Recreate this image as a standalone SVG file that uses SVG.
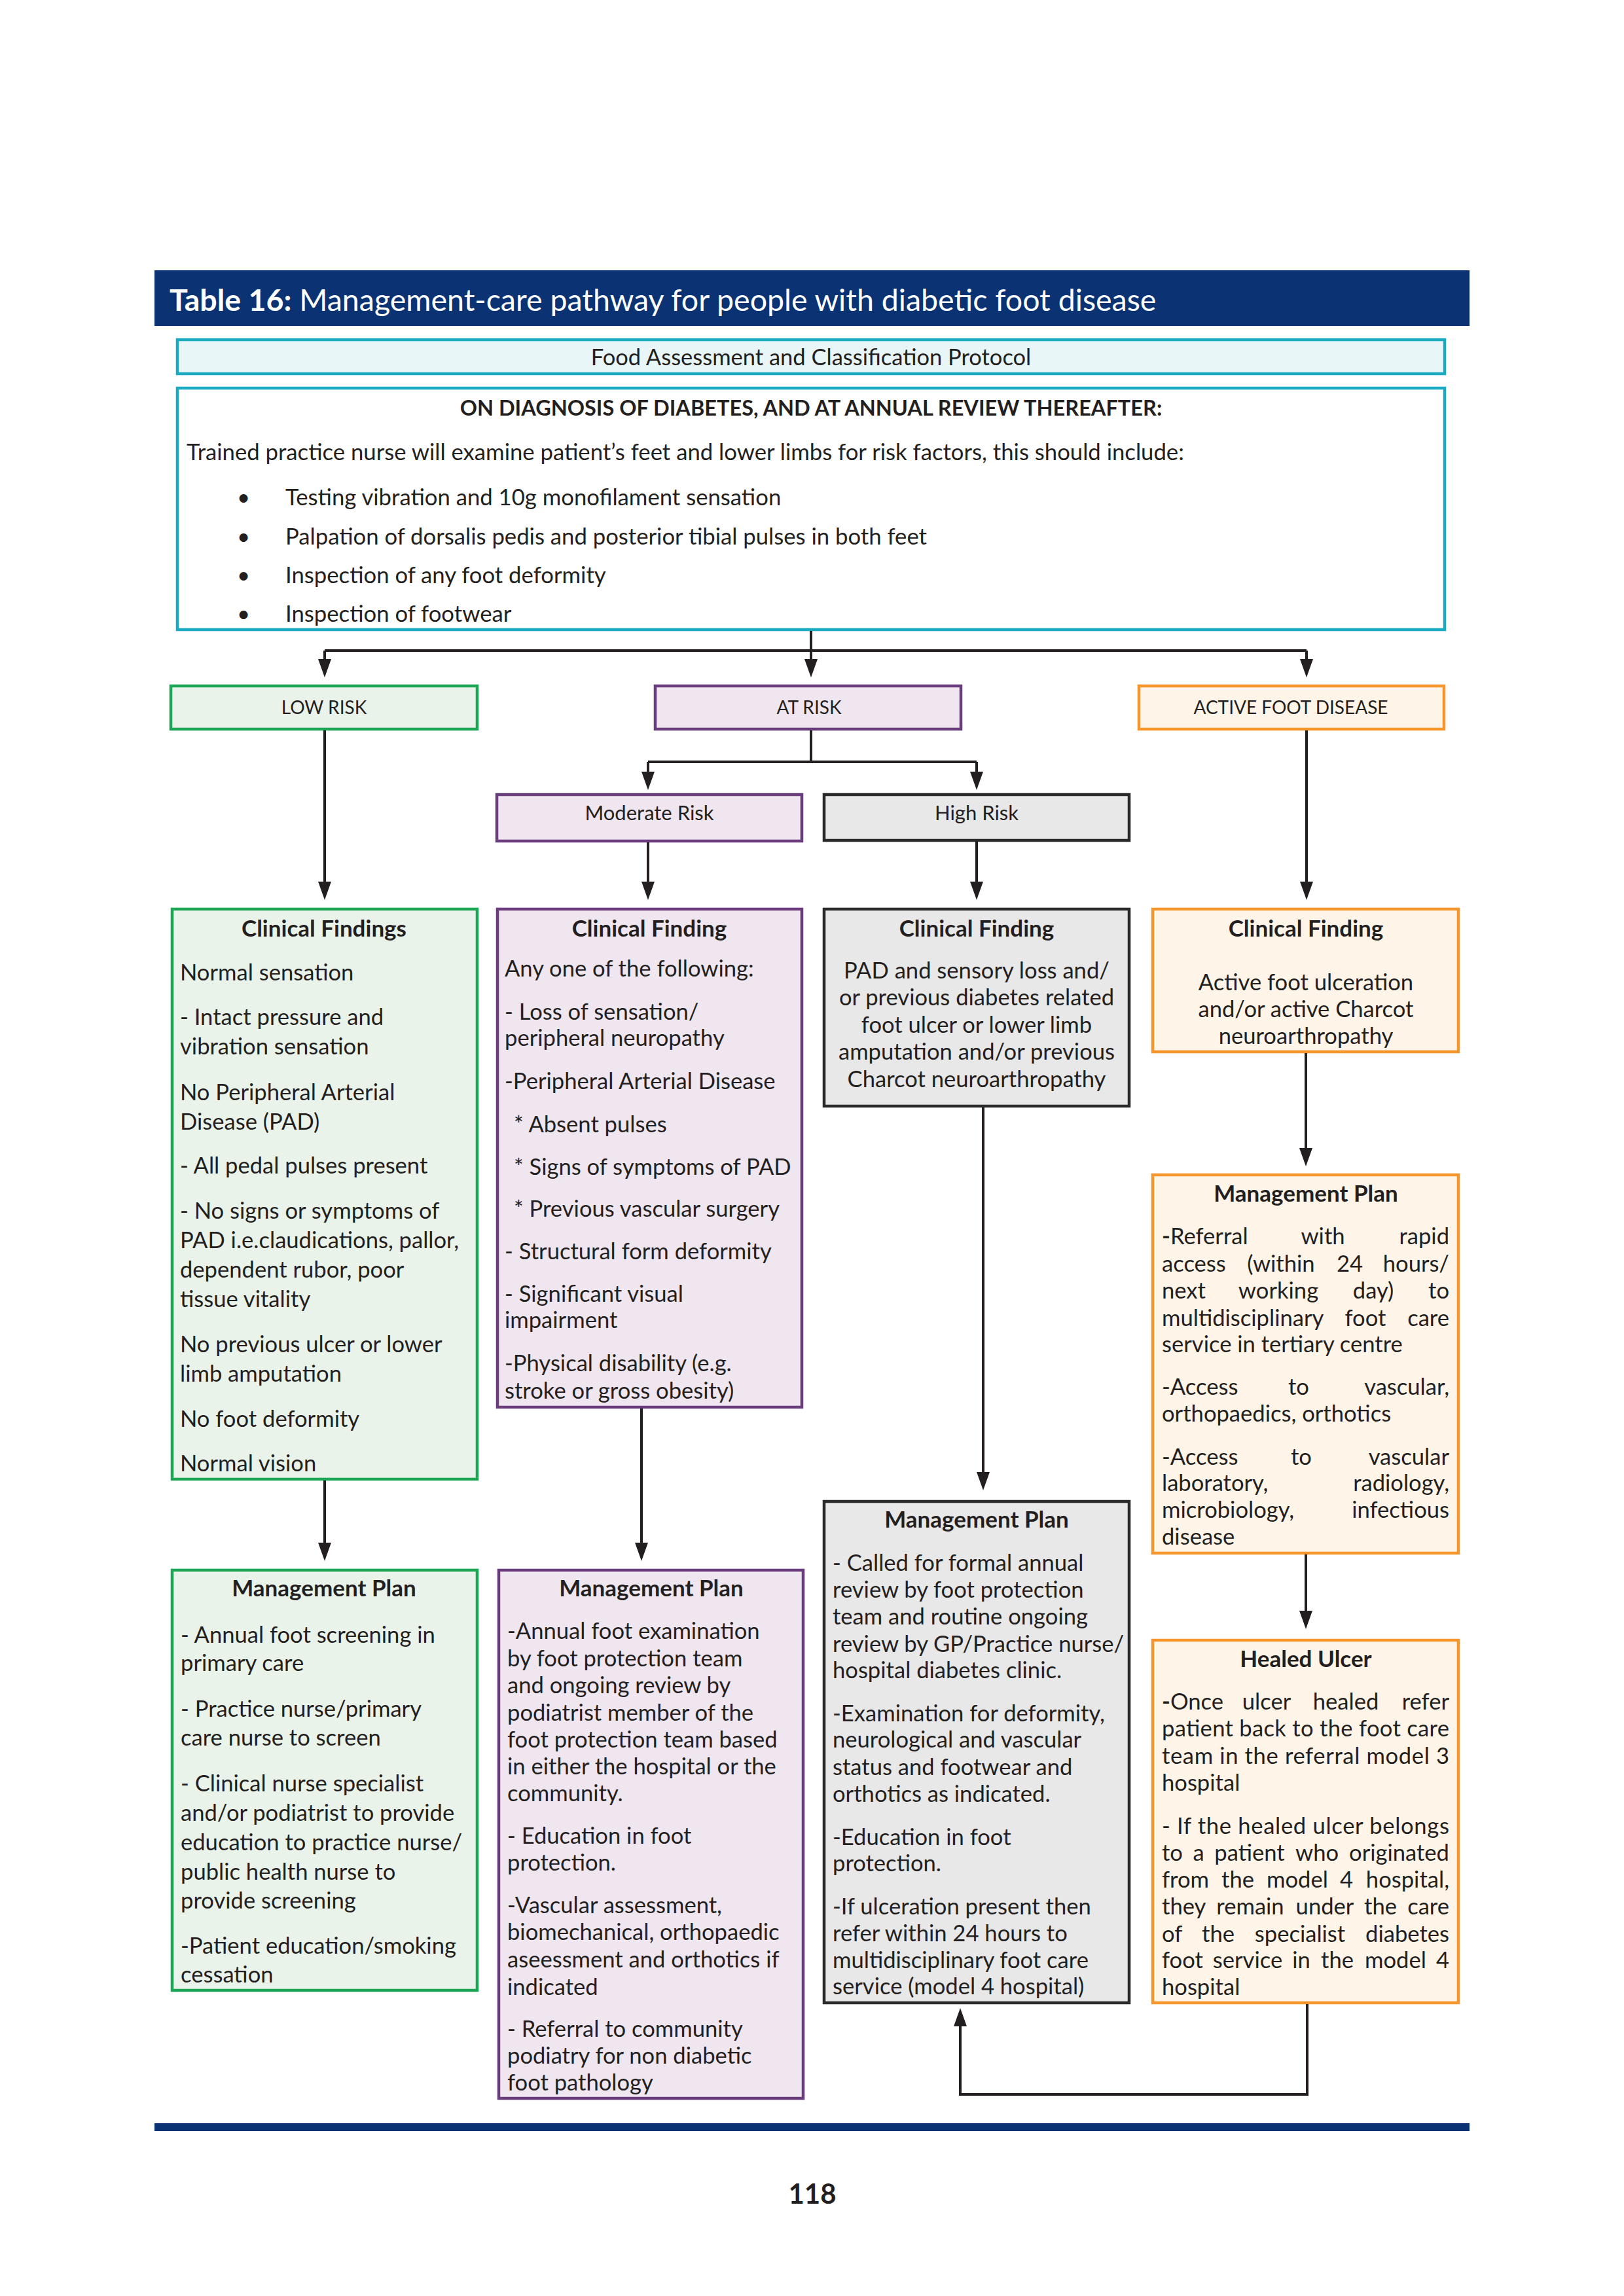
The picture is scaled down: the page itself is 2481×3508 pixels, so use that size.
<svg xmlns="http://www.w3.org/2000/svg" width="2481" height="3508" viewBox="0 0 2481 3508">
<defs>
<style>
.t{font-family:Lato,"Noto Sans","Liberation Sans",sans-serif;fill:#231F20}
.b{font-size:34.6px}
.s{font-size:34.7px}
.l{font-size:31px}
.cap{font-size:28px}
.h{font-size:35px;font-weight:bold}
.m{text-anchor:middle}
.e{text-anchor:end}
.st{text-anchor:start}
.bx{stroke-width:4.5}
.g{fill:#EAF3EA;stroke:#1BA554}
.p{fill:#F0E6EF;stroke:#693C7B}
.k{fill:#E8E8E8;stroke:#2A2A2A}
.o{fill:#FEF4E7;stroke:#F4962B}
.cy{fill:#E9F6F8;stroke:#1AABC0}
.w{fill:#FFFFFF;stroke:#1AABC0}
.cn{fill:none;stroke:#231F20;stroke-width:4}
.navy{fill:#0B3373}
</style>
<marker id="ah" viewBox="0 0 28 20" markerWidth="28" markerHeight="20" refX="1" refY="10" orient="auto" markerUnits="userSpaceOnUse"><path d="M0,0 L28,10 L0,20 z" fill="#231F20"/></marker>
</defs>
<rect width="2481" height="3508" fill="#FFFFFF"/>

<g id="title">
<rect class="navy" x="236" y="413" width="2009" height="85"/>
<text class="t" x="259" y="475" style="font-size:46.5px;fill:#FFFFFF"><tspan font-weight="bold">Table 16:</tspan> Management-care pathway for people with diabetic foot disease</text>
</g>

<g id="protocol">
<rect class="bx cy" x="271" y="519" width="1936" height="52"/>
<text class="t m" x="1239" y="558" style="font-size:34.5px">Food Assessment and Classification Protocol</text>
</g>

<g id="diagnosis">
<rect class="bx w" x="271" y="593" width="1936" height="369"/>
<text class="t m" x="1239" y="635" style="font-size:32.5px;font-weight:bold">ON DIAGNOSIS OF DIABETES, AND AT ANNUAL REVIEW THEREAFTER:</text>
<text class="t s" x="285" y="703">Trained practice nurse will examine patient’s feet and lower limbs for risk factors, this should include:</text>
<text class="t s" x="362" y="772">•</text><text class="t s" x="436" y="772">Testing vibration and 10g monofilament sensation</text>
<text class="t s" x="362" y="832">•</text><text class="t s" x="436" y="832">Palpation of dorsalis pedis and posterior tibial pulses in both feet</text>
<text class="t s" x="362" y="891">•</text><text class="t s" x="436" y="891">Inspection of any foot deformity</text>
<text class="t s" x="362" y="950">•</text><text class="t s" x="436" y="950">Inspection of footwear</text>
</g>

<g id="low-risk">
<rect class="bx g" x="261" y="1048" width="468" height="66"/>
<text class="t cap m" x="495" y="1091">LOW RISK</text>
</g>
<g id="at-risk">
<rect class="bx p" x="1001" y="1048" width="467" height="66"/>
<text class="t cap m" x="1236" y="1091">AT RISK</text>
</g>
<g id="active-foot-disease">
<rect class="bx o" x="1740" y="1048" width="466" height="66"/>
<text class="t cap m" x="1972" y="1091">ACTIVE FOOT DISEASE</text>
</g>
<g id="moderate-risk">
<rect class="bx p" x="759" y="1214" width="466" height="71"/>
<text class="t l m" x="992" y="1253">Moderate Risk</text>
</g>
<g id="high-risk">
<rect class="bx k" x="1259" y="1214" width="466" height="70"/>
<text class="t l m" x="1492" y="1253">High Risk</text>
</g>

<g id="low-clinical">
<rect class="bx g" x="263" y="1389" width="466" height="871"/>
<text class="t h m" x="495" y="1431">Clinical Findings</text>
<text class="t b" x="275" y="1498">Normal sensation</text>
<text class="t b" x="275" y="1566">- Intact pressure and</text>
<text class="t b" x="275" y="1611">vibration sensation</text>
<text class="t b" x="275" y="1681">No Peripheral Arterial</text>
<text class="t b" x="275" y="1726">Disease (PAD)</text>
<text class="t b" x="275" y="1793">- All pedal pulses present</text>
<text class="t b" x="275" y="1862">- No signs or symptoms of</text>
<text class="t b" x="275" y="1907">PAD i.e.claudications, pallor,</text>
<text class="t b" x="275" y="1952">dependent rubor, poor</text>
<text class="t b" x="275" y="1997">tissue vitality</text>
<text class="t b" x="275" y="2066">No previous ulcer or lower</text>
<text class="t b" x="275" y="2111">limb amputation</text>
<text class="t b" x="275" y="2180">No foot deformity</text>
<text class="t b" x="275" y="2248">Normal vision</text>
</g>

<g id="moderate-clinical">
<rect class="bx p" x="760" y="1389" width="465" height="761"/>
<text class="t h m" x="992" y="1431">Clinical Finding</text>
<text class="t b" x="771" y="1492">Any one of the following:</text>
<text class="t b" x="771" y="1558">- Loss of sensation/</text>
<text class="t b" x="771" y="1598">peripheral neuropathy</text>
<text class="t b" x="771" y="1664">-Peripheral Arterial Disease</text>
<text class="t b" x="785" y="1730">* Absent pulses</text>
<text class="t b" x="785" y="1795">* Signs of symptoms of PAD</text>
<text class="t b" x="785" y="1859">* Previous vascular surgery</text>
<text class="t b" x="771" y="1924">- Structural form deformity</text>
<text class="t b" x="771" y="1989">- Significant visual</text>
<text class="t b" x="771" y="2029">impairment</text>
<text class="t b" x="771" y="2095">-Physical disability (e.g.</text>
<text class="t b" x="771" y="2137">stroke or gross obesity)</text>
</g>

<g id="high-clinical">
<rect class="bx k" x="1259" y="1389" width="466" height="301"/>
<text class="t h m" x="1492" y="1431">Clinical Finding</text>
<text class="t b m" x="1492" y="1495">PAD and sensory loss and/</text>
<text class="t b m" x="1492" y="1536">or previous diabetes related</text>
<text class="t b m" x="1492" y="1578">foot ulcer or lower limb</text>
<text class="t b m" x="1492" y="1619">amputation and/or previous</text>
<text class="t b m" x="1492" y="1661">Charcot neuroarthropathy</text>
</g>

<g id="active-clinical">
<rect class="bx o" x="1761" y="1389" width="467" height="218"/>
<text class="t h m" x="1995" y="1431">Clinical Finding</text>
<text class="t b m" x="1995" y="1513">Active foot ulceration</text>
<text class="t b m" x="1995" y="1554">and/or active Charcot</text>
<text class="t b m" x="1995" y="1595">neuroarthropathy</text>
</g>

<g id="active-management">
<rect class="bx o" x="1761" y="1795" width="467" height="578"/>
<text class="t h m" x="1995" y="1836">Management Plan</text>
<text class="t b" y="1901"><tspan x="1775" class="st"><tspan font-weight="bold">-</tspan>Referral</tspan><tspan x="2021" class="m">with</tspan><tspan x="2214" class="e">rapid</tspan></text>
<text class="t b" y="1943"><tspan x="1775" class="st">access</tspan><tspan x="1957" class="m">(within</tspan><tspan x="2062" class="m">24</tspan><tspan x="2214" class="e">hours/</tspan></text>
<text class="t b" y="1984"><tspan x="1775" class="st">next</tspan><tspan x="1953" class="m">working</tspan><tspan x="2098" class="m">day)</tspan><tspan x="2214" class="e">to</tspan></text>
<text class="t b" y="2026"><tspan x="1775" class="st">multidisciplinary</tspan><tspan x="2086" class="m">foot</tspan><tspan x="2214" class="e">care</tspan></text>
<text class="t b" x="1775" y="2066">service in tertiary centre</text>
<text class="t b" y="2131"><tspan x="1775" class="st">-Access</tspan><tspan x="1984" class="m">to</tspan><tspan x="2214" class="e">vascular,</tspan></text>
<text class="t b" x="1775" y="2172">orthopaedics, orthotics</text>
<text class="t b" y="2238"><tspan x="1775" class="st">-Access</tspan><tspan x="1988" class="m">to</tspan><tspan x="2214" class="e">vascular</tspan></text>
<text class="t b" y="2278"><tspan x="1775" class="st">laboratory,</tspan><tspan x="2214" class="e">radiology,</tspan></text>
<text class="t b" y="2319"><tspan x="1775" class="st">microbiology,</tspan><tspan x="2214" class="e">infectious</tspan></text>
<text class="t b" x="1775" y="2360">disease</text>
</g>

<g id="healed-ulcer">
<rect class="bx o" x="1761" y="2506" width="467" height="554"/>
<text class="t h m" x="1995" y="2547">Healed Ulcer</text>
<text class="t b" y="2612"><tspan x="1775" class="st"><tspan font-weight="bold">-</tspan>Once</tspan><tspan x="1935" class="m">ulcer</tspan><tspan x="2056" class="m">healed</tspan><tspan x="2214" class="e">refer</tspan></text>
<text class="t b" x="1775" y="2653" textLength="439" lengthAdjust="spacing">patient back to the foot care</text>
<text class="t b" x="1775" y="2695" textLength="439" lengthAdjust="spacing">team in the referral model 3</text>
<text class="t b" x="1775" y="2736">hospital</text>
<text class="t b" x="1775" y="2802" textLength="439" lengthAdjust="spacing">- If the healed ulcer belongs</text>
<text class="t b" y="2843"><tspan x="1775" class="st">to</tspan><tspan x="1831" class="m">a</tspan><tspan x="1909" class="m">patient</tspan><tspan x="2012" class="m">who</tspan><tspan x="2214" class="e">originated</tspan></text>
<text class="t b" y="2884"><tspan x="1775" class="st">from</tspan><tspan x="1891" class="m">the</tspan><tspan x="1982" class="m">model</tspan><tspan x="2057" class="m">4</tspan><tspan x="2214" class="e">hospital,</tspan></text>
<text class="t b" y="2925"><tspan x="1775" class="st">they</tspan><tspan x="1910" class="m">remain</tspan><tspan x="2024" class="m">under</tspan><tspan x="2109" class="m">the</tspan><tspan x="2214" class="e">care</tspan></text>
<text class="t b" y="2967"><tspan x="1775" class="st">of</tspan><tspan x="1861" class="m">the</tspan><tspan x="1986" class="m">specialist</tspan><tspan x="2214" class="e">diabetes</tspan></text>
<text class="t b" y="3007"><tspan x="1775" class="st">foot</tspan><tspan x="1906" class="m">service</tspan><tspan x="1988" class="m">in</tspan><tspan x="2043" class="m">the</tspan><tspan x="2132" class="m">model</tspan><tspan x="2214" class="e">4</tspan></text>
<text class="t b" x="1775" y="3048">hospital</text>
</g>

<g id="low-management">
<rect class="bx g" x="263" y="2399" width="466" height="642"/>
<text class="t h m" x="495" y="2439">Management Plan</text>
<text class="t b" x="276" y="2510">- Annual foot screening in</text>
<text class="t b" x="276" y="2553">primary care</text>
<text class="t b" x="276" y="2623">- Practice nurse/primary</text>
<text class="t b" x="276" y="2667">care nurse to screen</text>
<text class="t b" x="276" y="2737">- Clinical nurse specialist</text>
<text class="t b" x="276" y="2782">and/or podiatrist to provide</text>
<text class="t b" x="276" y="2827">education to practice nurse/</text>
<text class="t b" x="276" y="2872">public health nurse to</text>
<text class="t b" x="276" y="2916">provide screening</text>
<text class="t b" x="276" y="2985">-Patient education/smoking</text>
<text class="t b" x="276" y="3029">cessation</text>
</g>

<g id="moderate-management">
<rect class="bx p" x="762" y="2399" width="465" height="807"/>
<text class="t h m" x="995" y="2439">Management Plan</text>
<text class="t b" x="775" y="2504">-Annual foot examination</text>
<text class="t b" x="775" y="2546">by foot protection team</text>
<text class="t b" x="775" y="2587">and ongoing review by</text>
<text class="t b" x="775" y="2629">podiatrist member of the</text>
<text class="t b" x="775" y="2670">foot protection team based</text>
<text class="t b" x="775" y="2711">in either the hospital or the</text>
<text class="t b" x="775" y="2752">community.</text>
<text class="t b" x="775" y="2817">- Education in foot</text>
<text class="t b" x="775" y="2858">protection.</text>
<text class="t b" x="775" y="2923">-Vascular assessment,</text>
<text class="t b" x="775" y="2964">biomechanical, orthopaedic</text>
<text class="t b" x="775" y="3006">aseessment and orthotics if</text>
<text class="t b" x="775" y="3048">indicated</text>
<text class="t b" x="775" y="3112">- Referral to community</text>
<text class="t b" x="775" y="3153">podiatry for non diabetic</text>
<text class="t b" x="775" y="3194">foot pathology</text>
</g>

<g id="high-management">
<rect class="bx k" x="1259" y="2294" width="466" height="766"/>
<text class="t h m" x="1492" y="2334">Management Plan</text>
<text class="t b" x="1272" y="2400">- Called for formal annual</text>
<text class="t b" x="1272" y="2441">review by foot protection</text>
<text class="t b" x="1272" y="2482">team and routine ongoing</text>
<text class="t b" x="1272" y="2524">review by GP/Practice nurse/</text>
<text class="t b" x="1272" y="2564">hospital diabetes clinic.</text>
<text class="t b" x="1272" y="2630">-Examination for deformity,</text>
<text class="t b" x="1272" y="2670">neurological and vascular</text>
<text class="t b" x="1272" y="2712">status and footwear and</text>
<text class="t b" x="1272" y="2753">orthotics as indicated.</text>
<text class="t b" x="1272" y="2819">-Education in foot</text>
<text class="t b" x="1272" y="2859">protection.</text>
<text class="t b" x="1272" y="2925">-If ulceration present then</text>
<text class="t b" x="1272" y="2966">refer within 24 hours to</text>
<text class="t b" x="1272" y="3007">multidisciplinary foot care</text>
<text class="t b" x="1272" y="3047">service (model 4 hospital)</text>
</g>

<g id="connectors">
<path class="cn" d="M1239,964 V994 M496,994 H1996"/>
<path class="cn" d="M496,994 V1008" marker-end="url(#ah)"/>
<path class="cn" d="M1239,994 V1008" marker-end="url(#ah)"/>
<path class="cn" d="M1996,994 V1008" marker-end="url(#ah)"/>
<path class="cn" d="M1239,1116 V1164 M990,1164 H1492"/>
<path class="cn" d="M990,1164 V1180" marker-end="url(#ah)"/>
<path class="cn" d="M1492,1164 V1180" marker-end="url(#ah)"/>
<path class="cn" d="M496,1116 V1348" marker-end="url(#ah)"/>
<path class="cn" d="M990,1287 V1348" marker-end="url(#ah)"/>
<path class="cn" d="M1492,1286 V1348" marker-end="url(#ah)"/>
<path class="cn" d="M1996,1116 V1348" marker-end="url(#ah)"/>
<path class="cn" d="M496,2262 V2358" marker-end="url(#ah)"/>
<path class="cn" d="M980,2152 V2358" marker-end="url(#ah)"/>
<path class="cn" d="M1502,1692 V2250" marker-end="url(#ah)"/>
<path class="cn" d="M1995,1609 V1755" marker-end="url(#ah)"/>
<path class="cn" d="M1995,2375 V2462" marker-end="url(#ah)"/>
<path class="cn" d="M1997,3062 V3200 H1467 V3095" marker-end="url(#ah)"/>
</g>

<g id="footer">
<rect class="navy" x="236" y="3244" width="2009" height="12"/>
<text class="t m" x="1241" y="3367" style="font-size:42px;font-weight:bold">118</text>
</g>
</svg>
